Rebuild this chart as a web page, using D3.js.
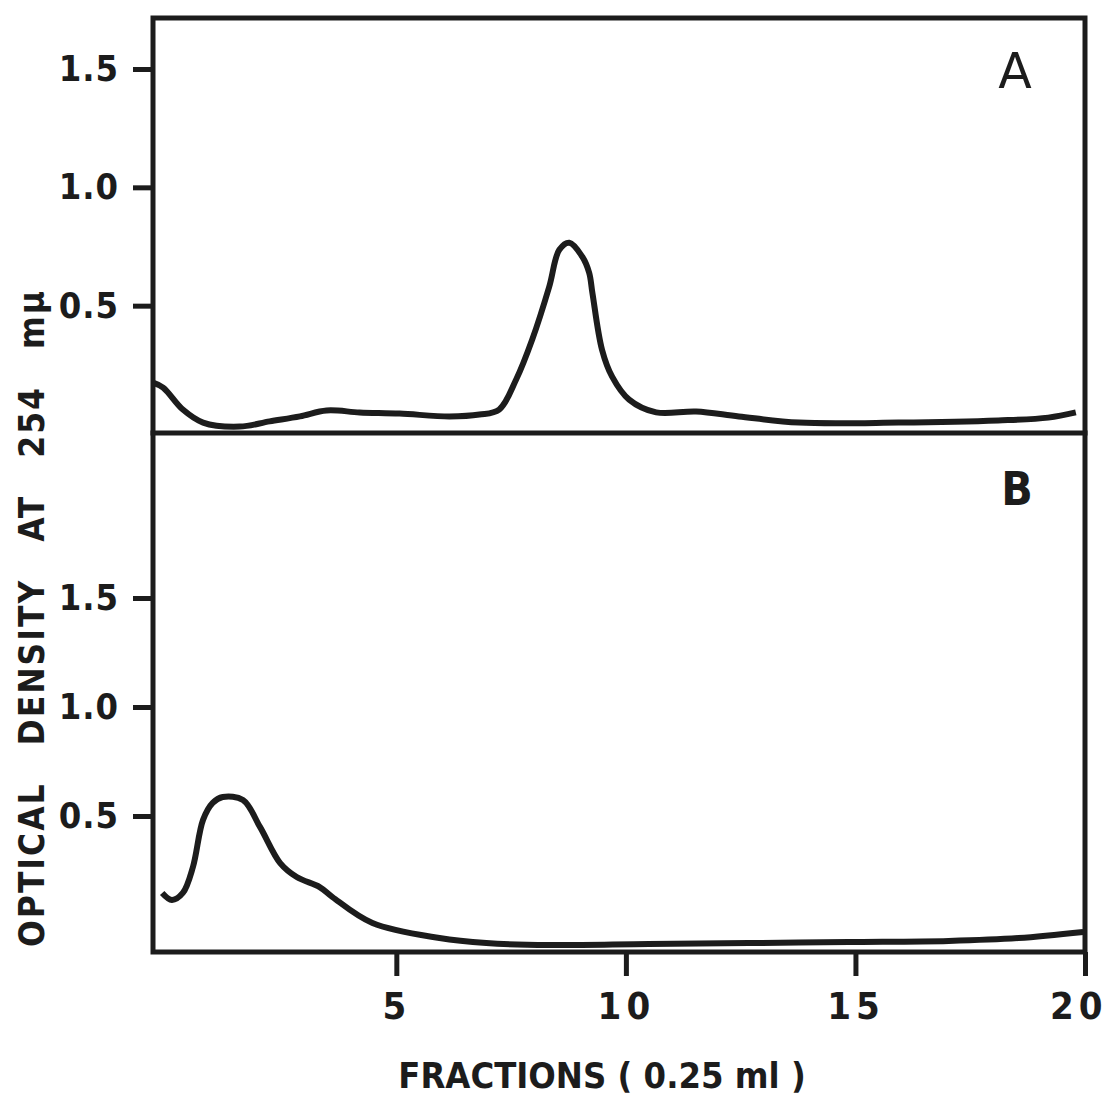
<!DOCTYPE html>
<html>
<head>
<meta charset="utf-8">
<script src="https://cdn.jsdelivr.net/npm/d3@7"></script>
<style>
body { margin: 0; background: #fff; }
svg { display: block; }
.lbl { font-family: "DejaVu Sans Condensed", "DejaVu Sans", sans-serif; font-weight: bold; fill: #1c1c1c; }
</style>
</head>
<body>
<svg width="1112" height="1100"></svg>
<script>

// DATA

// panel A : fraction number vs optical density
var fractionsA = [-0.3, -0.08, 0.35, 0.79, 1.59, 2.24, 2.9, 3.48, 4.2, 5.07, 6.16, 6.81, 7.24, 7.61, 7.96, 8.33, 8.55, 8.77, 9.05, 9.2, 9.27, 9.48, 9.7, 10.07, 10.66, 11.53, 12.46, 13.77, 15.94, 18.11, 19.2, 19.8];
var odA = [0.175, 0.154, 0.061, 0.006, -0.011, 0.011, 0.032, 0.057, 0.049, 0.044, 0.032, 0.04, 0.061, 0.188, 0.357, 0.58, 0.736, 0.766, 0.707, 0.639, 0.555, 0.314, 0.2, 0.103, 0.049, 0.053, 0.032, 0.006, 0.006, 0.015, 0.027, 0.049];

// panel B
var fractionsB = [-0.1, 0.11, 0.35, 0.57, 0.79, 1.0, 1.22, 1.66, 2.03, 2.47, 2.83, 3.33, 3.61, 4.48, 5.94, 6.96, 8.33, 10.5, 12.68, 14.85, 17.03, 18.55, 19.96];
var odB = [0.147, 0.115, 0.147, 0.266, 0.482, 0.56, 0.587, 0.573, 0.45, 0.284, 0.22, 0.174, 0.128, 0.009, -0.06, -0.083, -0.092, -0.087, -0.083, -0.078, -0.073, -0.06, -0.032];

var yTicks = [0.5, 1.0, 1.5];
var xTicks = [5, 10, 15, 20];
var panelNames = ["A", "B"];
var yTitle = "OPTICAL DENSITY AT 254 mμ";
var xTitle = "FRACTIONS ( 0.25 ml )";


var svg = d3.select("svg"),
    ink = "#1c1c1c";

var left = 153, right = 1085,
    topY = 18, mid = 433, bottom = 952;

var x = d3.scaleLinear()
    .domain([-0.3, 20])
    .range([left, right]);

var yA = d3.scaleLinear()
    .domain([0, 1.5])
    .range([424, 69]);

var yB = d3.scaleLinear()
    .domain([0, 1.5])
    .range([925, 598]);

function yAxis(scale) {
    return d3.axisLeft(scale)
        .tickValues(yTicks)
        .tickSize(20)
        .tickPadding(14)
        .tickFormat(d3.format(".1f"));
}

function styleAxis(g) {
    g.select(".domain").remove();
    g.selectAll(".tick line").attr("stroke", ink).attr("stroke-width", 5);
    g.selectAll(".tick text")
        .attr("class", "lbl")
        .attr("fill", ink)
        .style("font-size", "36px")
        .style("letter-spacing", "1px");
}

svg.append("g")
    .attr("transform", "translate(" + left + ",0)")
    .call(yAxis(yA))
    .call(styleAxis);

svg.append("g")
    .attr("transform", "translate(" + left + ",0)")
    .call(yAxis(yB))
    .call(styleAxis);

var gX = svg.append("g")
    .attr("transform", "translate(0," + bottom + ")")
    .call(d3.axisBottom(x)
        .tickValues(xTicks)
        .tickSize(24)
        .tickPadding(16))
    .call(styleAxis);
gX.selectAll(".tick text").style("font-size", "38px").style("letter-spacing", "5px");
gX.selectAll(".tick").filter(function (d) { return d === 20; })
    .select("text").attr("text-anchor", "end").attr("x", 22);

// frame
var frame = svg.append("g")
    .attr("fill", "none")
    .attr("stroke", ink)
    .attr("stroke-width", 5)
    .attr("stroke-linecap", "square");

frame.append("rect")
    .attr("x", left).attr("y", topY)
    .attr("width", right - left).attr("height", bottom - topY);

frame.append("line")
    .attr("x1", left).attr("x2", right)
    .attr("y1", mid).attr("y2", mid);

// curves
var lineA = d3.line()
    .x(function (d, i) { return x(fractionsA[i]); })
    .y(function (d) { return yA(d); })
    .curve(d3.curveCatmullRom);

var lineB = d3.line()
    .x(function (d, i) { return x(fractionsB[i]); })
    .y(function (d) { return yB(d); })
    .curve(d3.curveCatmullRom);

svg.append("path")
    .datum(odA)
    .attr("fill", "none")
    .attr("stroke", ink)
    .attr("stroke-width", 6)
    .attr("stroke-linejoin", "round")
    .attr("d", lineA);

svg.append("path")
    .datum(odB)
    .attr("fill", "none")
    .attr("stroke", ink)
    .attr("stroke-width", 6)
    .attr("stroke-linejoin", "round")
    .attr("d", lineB);

// panel letters
svg.append("text")
    .attr("x", 1015).attr("y", 88)
    .attr("text-anchor", "middle")
    .attr("fill", ink)
    .style("font-family", "'DejaVu Sans', sans-serif")
    .style("font-size", "49px")
    .text(panelNames[0]);

svg.append("text")
    .attr("class", "lbl")
    .attr("x", 1017).attr("y", 505)
    .attr("text-anchor", "middle")
    .style("font-size", "46px")
    .text(panelNames[1]);

// titles
svg.append("text")
    .attr("class", "lbl")
    .attr("transform", "translate(44,618) rotate(-90)")
    .attr("text-anchor", "middle")
    .style("font-size", "35px")
    .style("letter-spacing", "2px")
    .style("word-spacing", "24px")
    .text(yTitle);

svg.append("text")
    .attr("class", "lbl")
    .attr("x", 602).attr("y", 1088)
    .attr("text-anchor", "middle")
    .style("font-size", "36px")
    .text(xTitle);

</script>
</body>
</html>
